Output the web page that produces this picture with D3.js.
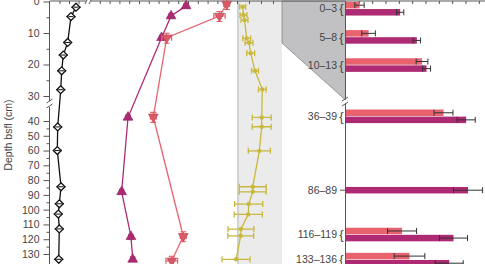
<!DOCTYPE html>
<html>
<head>
<meta charset="utf-8">
<script src="https://cdn.jsdelivr.net/npm/d3@7"></script>
<style>
	body { margin: 0; background: #fff; }
	svg { display: block; font-family: "Liberation Sans", Arial, sans-serif; }
</style>
</head>
<body>
<svg id="chart" width="485" height="264"></svg>
<script>
// 1. data
var diamondDepth = [1.8, 4.8, 13, 17, 22, 28, 44, 60, 84.5, 96, 103, 113, 133.6];
var diamondValue = [27.4, 22.1, 18.6, 14, 12.3, 11.3, 8.1, 7.7, 11.6, 9.8, 8.7, 9.8, 9.2];

var magentaDepth = [1.4, 4.6, 11.5, 37.5, 87.9, 118.3, 133.6];
var magentaValue = [9.8, 8.27, 7.3, 3.88, 3.23, 4.18, 4.36];
var magentaErr = [0.2, 0.2, 0.2, 0.2, 0.2, 0.2, 0.2];

var pinkDepth = [0.8, 4.6, 11.5, 37.2, 118, 134.6];
var pinkValue = [13.95, 13.21, 7.83, 6.46, 9.52, 8.34];
var pinkErr = [0.3, 0.58, 0.5, 0.3, 0.3, 0.6];

var yellowDepth = [1.65, 4.3, 5.9, 11.7, 13.1, 16.4, 22, 27.9, 37.6, 43.9, 60.2, 84.5, 87.9, 96.2, 103.2, 113.1, 117.7, 133.6];
var yellowValue = [14.75, 15.4, 16.25, 18.1, 20, 21.4, 25, 31.1, 30.6, 30.6, 28.6, 23.1, 23.1, 19.75, 19.4, 13.3, 13.1, 9.2];
var yellowErr = [2.5, 2.9, 2.9, 3.3, 3.3, 3.3, 2.9, 3.2, 7.9, 7.9, 9.2, 11.2, 11.2, 11.7, 11.7, 10.8, 10.8, 11.7];
var bandRange = [10, 47.5];

var barRows = ["0\u20133", "5\u20138", "10\u201313", "36\u201339", "86\u201389", "116\u2013119", "133\u2013136"];
var barDepthMid = [1.5, 6.5, 11.5, 37.5, 87.5, 117.5, 134.5];
var pinkBar = [1.05, 1.73, 5.74, 7.35, null, 4.24, 4.8];
var pinkBarErr = [0.35, 0.51, 0.44, 0.71, null, 1.09, 1.15];
var magentaBar = [4.1, 5.35, 6.08, 9.05, 9.19, 8.1, 7.78];
var magentaBarErr = [0.27, 0.28, 0.3, 0.68, 1.09, 1.05, 1.05];

var yTicksUp = [0, 10, 20, 30];
var yTicksLow = [40, 50, 60, 70, 80, 90, 100, 110, 120, 130];

// colours
var cPink = "#e8636e", cMagenta = "#ae2a72", cYellow = "#c9b83e", cAxis = "#555";

var svg = d3.select("#chart");

// 2. scales (broken depth axis)
var yUp = d3.scaleLinear().domain([0, 30]).range([1.5, 96]);
var yLow = d3.scaleLinear().domain([40, 130]).range([121, 254]);
function yDepth(d) { return d < 34 ? yUp(d) : yLow(d); }
var yBarUp = d3.scaleLinear().domain([0, 13]).range([0.3, 73.5]);
function yBarRow(d) { return d < 34 ? yBarUp(d) : yLow(d) - 1; }

var xA = d3.scaleLinear().domain([0, 40]).range([50, 88]);
var xB = d3.scaleLinear().domain([0, 15]).range([90, 237]);
var xC = d3.scaleLinear().domain([0, 50]).range([225, 285]);
var xBar = d3.scaleLinear().domain([0, 10.5]).range([345.5, 485.5]);

// 3. background band + zoom connector
svg.append("rect")
	.attr("x", xC(bandRange[0])).attr("y", 1)
	.attr("width", xC(bandRange[1]) - xC(bandRange[0])).attr("height", 263)
	.attr("fill", "#ebebeb");
svg.append("rect")
	.attr("x", xC(bandRange[0])).attr("y", 1)
	.attr("width", 2).attr("height", 263)
	.attr("fill", "#d2d2d2");

var connector = [
	[xC(bandRange[1]), 1],
	[xBar(0), 1],
	[xBar(0), 100],
	[xC(bandRange[1]), yUp(13.2)]
];
svg.append("path")
	.attr("d", d3.line()(connector) + "Z")
	.attr("fill", "#c1c1c3")
	.attr("stroke", "#7a7a7a")
	.attr("stroke-width", 0.7);

// 4. left depth axis
var gAxis = svg.append("g").attr("transform", "translate(49.5,0)");
gAxis.append("line").attr("x1", 0).attr("x2", 0).attr("y1", 1).attr("y2", 101).attr("stroke", cAxis);
gAxis.append("line").attr("x1", 0).attr("x2", 0).attr("y1", 107).attr("y2", 264).attr("stroke", cAxis);
gAxis.append("path").attr("d", "M-3,103L3,99M-3,108L3,104").attr("stroke", cAxis).attr("fill", "none");

function depthTicks(scale, major, minor) {
	var g = gAxis.append("g");
	g.call(d3.axisLeft(scale).tickValues(major).tickSize(6).tickPadding(4))
		.call(function(s) { s.select(".domain").remove(); });
	g.selectAll("line").attr("stroke", cAxis);
	g.selectAll("text").attr("fill", "#444").style("font-size", "10.5px");
	var m = gAxis.append("g");
	m.call(d3.axisLeft(scale).tickValues(minor).tickSize(3).tickFormat(""))
		.call(function(s) { s.select(".domain").remove(); });
	m.selectAll("line").attr("stroke", cAxis);
}
depthTicks(yUp, yTicksUp, [5, 15, 25]);
depthTicks(yLow, yTicksLow, [45, 55, 65, 75, 85, 95, 105, 115, 125]);

svg.append("text")
	.attr("transform", "translate(12,135) rotate(-90)")
	.attr("text-anchor", "middle")
	.attr("fill", "#444")
	.style("font-size", "10.5px")
	.text("Depth bsfl (cm)");

// 5. top axes
svg.append("line").attr("x1", 50).attr("x2", 86).attr("y1", 1).attr("y2", 1).attr("stroke", cAxis);
svg.append("line").attr("x1", 91).attr("x2", 485).attr("y1", 1).attr("y2", 1).attr("stroke", cAxis);
svg.append("path").attr("d", "M85,4L88,-2M89,4L92,-2").attr("stroke", cAxis).attr("fill", "none");

function topTicks(scale, values) {
	var g = svg.append("g").attr("transform", "translate(0,1)");
	g.call(d3.axisBottom(scale).tickValues(values).tickSize(3).tickFormat(""))
		.call(function(s) { s.select(".domain").remove(); });
	g.selectAll("line").attr("stroke", cAxis);
}
topTicks(xA, [10, 20, 30]);
topTicks(xB, d3.range(1, 15, 1));
topTicks(xC, [10, 20, 30, 40]);
topTicks(xBar, d3.range(1, 11, 1));

// 6. profiles
function profile(depth, value, xs, color) {
	var pts = depth.map(function(d, i) { return [xs(value[i]), yDepth(d)]; });
	svg.append("path")
		.attr("d", d3.line()(pts))
		.attr("fill", "none")
		.attr("stroke", color)
		.attr("stroke-width", 1.3);
	return pts;
}

function xErrors(depth, value, err, xs, color, width) {
	var g = svg.append("g").attr("stroke", color).attr("stroke-width", width || 1.2).attr("fill", "none");
	depth.forEach(function(d, i) {
		var y = yDepth(d), x0 = xs(value[i] - err[i]), x1 = xs(value[i] + err[i]);
		g.append("path").attr("d", "M" + x0 + "," + y + "H" + x1 +
			"M" + x0 + "," + (y - 3) + "V" + (y + 3) +
			"M" + x1 + "," + (y - 3) + "V" + (y + 3));
	});
}

// yellow
profile(yellowDepth, yellowValue, xC, cYellow);
xErrors(yellowDepth, yellowValue, yellowErr, xC, cYellow, 1.3);
svg.append("g").selectAll("circle")
	.data(yellowDepth).enter().append("circle")
	.attr("cx", function(d, i) { return xC(yellowValue[i]); })
	.attr("cy", function(d) { return yDepth(d); })
	.attr("r", 2.2)
	.attr("fill", cYellow);

// black diamonds
profile(diamondDepth, diamondValue, xA, "#111");
var diamond = d3.symbol().type(d3.symbolDiamond2).size(40);
svg.append("g").selectAll("g")
	.data(diamondDepth).enter().append("g")
	.attr("transform", function(d, i) { return "translate(" + xA(diamondValue[i]) + "," + yDepth(d) + ")"; })
	.each(function() {
		var g = d3.select(this);
		g.append("path").attr("d", "M-4.5,0H4.5").attr("stroke", "#111").attr("stroke-width", 1.2);
		g.append("path").attr("d", diamond).attr("fill", "#fff").attr("stroke", "#111").attr("stroke-width", 1.3);
		g.append("path").attr("d", "M-2.5,0H2.5").attr("stroke", "#111").attr("stroke-width", 1);
	});

// magenta up-triangles
profile(magentaDepth, magentaValue, xB, cMagenta);
xErrors(magentaDepth, magentaValue, magentaErr, xB, cMagenta, 1.2);
var triUp = d3.symbol().type(d3.symbolTriangle).size(42);
svg.append("g").selectAll("path")
	.data(magentaDepth).enter().append("path")
	.attr("transform", function(d, i) { return "translate(" + xB(magentaValue[i]) + "," + yDepth(d) + ")"; })
	.attr("d", triUp)
	.attr("fill", cMagenta)
	.attr("stroke", "#8e1f5c")
	.attr("stroke-width", 0.6);

// pink down-triangles
profile(pinkDepth, pinkValue, xB, cPink);
xErrors(pinkDepth, pinkValue, pinkErr, xB, cPink, 1.2);
svg.append("g").selectAll("path")
	.data(pinkDepth).enter().append("path")
	.attr("transform", function(d, i) { return "translate(" + xB(pinkValue[i]) + "," + (yDepth(d) + 0.5) + ")"; })
	.attr("d", "M0,-5V5M-3,-5H3M-3,5H3")
	.attr("stroke", cPink)
	.attr("stroke-width", 1.2)
	.attr("fill", "none");
svg.append("g").selectAll("path")
	.data(pinkDepth).enter().append("path")
	.attr("transform", function(d, i) { return "translate(" + xB(pinkValue[i]) + "," + yDepth(d) + ") rotate(180)"; })
	.attr("d", triUp)
	.attr("fill", "#d95a67")
	.attr("stroke", "#b84552")
	.attr("stroke-width", 0.6);

// 7. bar panel
svg.append("line").attr("x1", xBar(0)).attr("x2", xBar(0)).attr("y1", 1).attr("y2", 98).attr("stroke", cAxis);
svg.append("line").attr("x1", xBar(0)).attr("x2", xBar(0)).attr("y1", 104).attr("y2", 264).attr("stroke", cAxis);
svg.append("path").attr("d", "M342,101L348,97M342,106L348,102").attr("stroke", cAxis).attr("fill", "none");

var barH = 6.5;
var gRows = svg.append("g").selectAll("g")
	.data(barRows).enter().append("g")
	.attr("transform", function(d, i) { return "translate(0," + yBarRow(barDepthMid[i]) + ")"; });

gRows.append("text")
	.attr("x", 337)
	.attr("y", 0)
	.attr("dy", "0.35em")
	.attr("text-anchor", "end")
	.attr("fill", "#444")
	.style("font-size", "10.5px")
	.text(function(d) { return d; });

gRows.each(function(d, i) {
	var g = d3.select(this);
	var single = pinkBar[i] === null;
	if (single) {
		g.append("line").attr("x1", 340).attr("x2", xBar(0)).attr("y1", 0).attr("y2", 0).attr("stroke", cAxis);
	} else {
		g.append("text")
			.attr("x", 341.5).attr("y", 0).attr("dy", "0.36em")
			.attr("text-anchor", "middle")
			.attr("fill", "#444")
			.style("font-size", "13px")
			.text("{");
	}
	var bars = [];
	if (!single) bars.push({ v: pinkBar[i], e: pinkBarErr[i], c: cPink, y: -barH - 0.3 });
	bars.push({ v: magentaBar[i], e: magentaBarErr[i], c: cMagenta, y: single ? -barH / 2 : 0.3 });
	bars.forEach(function(b) {
		g.append("rect")
			.attr("x", xBar(0) + 0.5).attr("y", b.y)
			.attr("width", xBar(b.v) - xBar(0) - 0.5).attr("height", barH)
			.attr("fill", b.c);
		var cy = b.y + barH / 2, x0 = xBar(b.v - b.e), x1 = xBar(b.v + b.e);
		g.append("path")
			.attr("d", "M" + x0 + "," + cy + "H" + x1 +
				"M" + x0 + "," + (cy - 3) + "V" + (cy + 3) +
				"M" + x1 + "," + (cy - 3) + "V" + (cy + 3))
			.attr("stroke", "#333")
			.attr("stroke-width", 1)
			.attr("fill", "none");
	});
});
</script>
</body>
</html>
